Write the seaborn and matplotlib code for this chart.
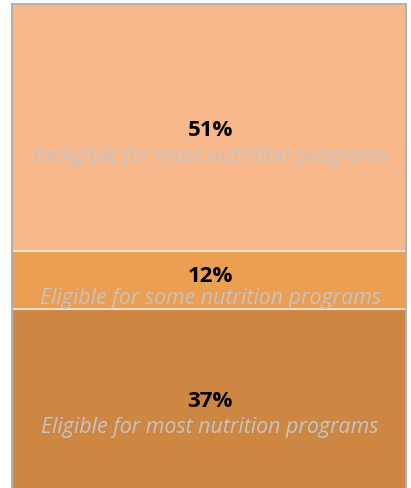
import numpy as np
import matplotlib
matplotlib.use("Agg")
import matplotlib.pyplot as plt
import seaborn as sns
import pandas as pd

# stacked from bottom to top
categories = ["Eligible for most nutrition programs",
              "Eligible for some nutrition programs",
              "Ineligible for most nutrition programs"]
shares = [37, 12, 51]
colors = ["#CD8743", "#EC9E52", "#F9B88B"]

sns.set_theme(style="white")
plt.rcParams['font.family'] = ['Open Sans', 'DejaVu Sans']

fig = plt.figure(figsize=(4.11, 4.89), dpi=100)
ax = fig.add_axes([0.029, -0.002, 0.959, 0.992])

bottom = 0
for cat, val, col in zip(categories, shares, colors):
    df = pd.DataFrame({"group": ["all"], "share": [val]})
    sns.barplot(data=df, x="group", y="share", bottom=bottom, color=col,
                width=1.0, edgecolor="#F4E6DA", linewidth=1.2, ax=ax,
                saturation=1)
    mid = bottom + val / 2
    if val > 20:
        y_pct, y_cat = mid - 0.3, mid - 5.7
    else:
        # narrow segment: keep the two labels just apart
        y_pct, y_cat = mid + 1.1, mid - 3.5
    ax.text(0.003, y_pct, f"{val}%", ha="center", va="center",
            fontsize=16, fontweight="bold", color="black")
    ax.text(0.003, y_cat, cat, ha="center", va="center",
            fontsize=15.4, fontstyle="italic", color="#C4C4C4")
    bottom += val

ax.set_xlim(-0.5, 0.5)
ax.set_ylim(0, 100)
ax.set_xticks([])
ax.set_yticks([])
ax.set_xlabel("")
ax.set_ylabel("")
for s in ax.spines.values():
    s.set_color("#A6A6A6")
    s.set_linewidth(1.2)

fig.savefig("out.png", dpi=100)
